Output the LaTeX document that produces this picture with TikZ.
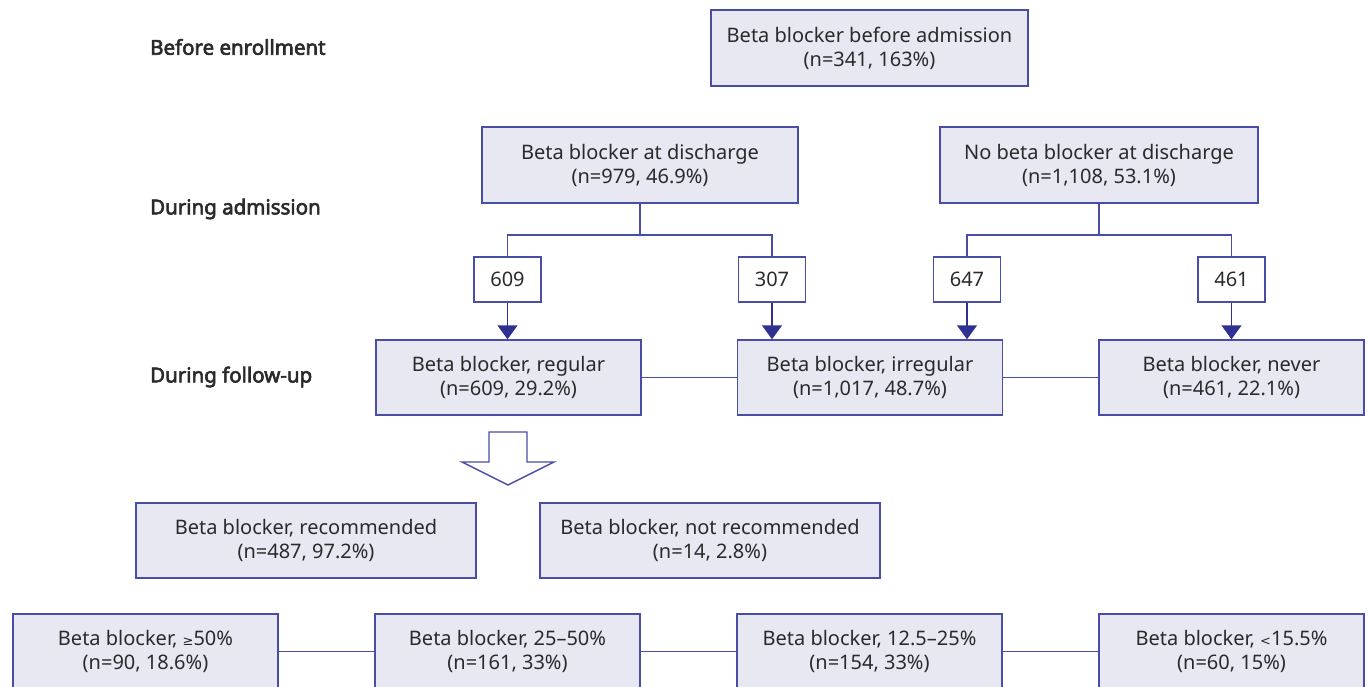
\documentclass[tikz,border=0pt]{standalone}
\usepackage{fontspec}
\setmainfont{Noto Sans}[AutoFakeBold=3]
\newfontfamily\symfont{DejaVu Sans}
\usetikzlibrary{arrows.meta}
\definecolor{boxfill}{HTML}{E8E8F3}
\definecolor{boxline}{HTML}{4A4DA6}
\definecolor{arrowc}{HTML}{2E3192}
\definecolor{txt}{HTML}{2A2A2A}
\newcommand{\sym}[1]{{\symfont\fontsize{13}{24}\selectfont #1}}
\tikzset{
  bx/.style={draw=boxline, line width=1.4pt, fill=boxfill, align=center, inner sep=0pt,
    minimum width=265, minimum height=75, text=txt, font=\fontsize{20}{24}\selectfont},
  numbox/.style={draw=boxline, line width=1.4pt, fill=white, inner sep=0pt,
    minimum width=67, minimum height=45, text=txt, font=\fontsize{20}{24}\selectfont},
  conn/.style={draw=boxline, line width=1.4pt},
  arr/.style={conn, -{Triangle[width=20pt,length=14pt]}, arrowc},
  lbl/.style={anchor=west, inner sep=0pt, text=txt, font=\bfseries\fontsize{20.5}{24}\selectfont}
}
\begin{document}
\begin{tikzpicture}[x=1pt,y=-1pt]
\useasboundingbox (0,0) rectangle (1369,687);
% stage labels
\node[lbl] (l1) at (150,47) {Before enrollment};
\node[lbl] (l2) at (150,209) {During admission};
\node[lbl] (l3) at (150,377) {During follow-up};
% top
\node[bx, minimum width=317, minimum height=76] (pre) at (869.5,48) {Beta blocker before admission\\(n=341, 163\%)};
% discharge
\node[bx, minimum width=316, minimum height=76] (d) at (640,165) {Beta blocker at discharge\\(n=979, 46.9\%)};
\node[bx, minimum width=318, minimum height=76] (nd) at (1099,165) {No beta blocker at discharge\\(n=1,108, 53.1\%)};
% number boxes
\node[numbox] (n609) at (507.5,279.5) {609};
\node[numbox] (n307) at (772,279.5) {307};
\node[numbox] (n647) at (967,279.5) {647};
\node[numbox] (n461) at (1231.5,279.5) {461};
% follow-up
\node[bx] (reg) at (508.5,377.5) {Beta blocker, regular\\(n=609, 29.2\%)};
\node[bx] (irr) at (870,377.5) {Beta blocker, irregular\\(n=1,017, 48.7\%)};
\node[bx] (nev) at (1231.5,377.5) {Beta blocker, never\\(n=461, 22.1\%)};
% branches
\coordinate (bj1) at (640,235);
\coordinate (bj2) at (1099,235);
\draw[conn] (d.south) -- (bj1);
\draw[conn] (n609.north) |- (bj1) -| (n307.north);
\draw[conn] (nd.south) -- (bj2);
\draw[conn] (n647.north) |- (bj2) -| (n461.north);
\draw[arr] (n609.south) -- (reg.north -| n609.south);
\draw[arr] (n307.south) -- (irr.north -| n307.south);
\draw[arr] (n647.south) -- (irr.north -| n647.south);
\draw[arr] (n461.south) -- (nev.north -| n461.south);
\draw[conn] (reg.east) -- (irr.west);
\draw[conn] (irr.east) -- (nev.west);
% block arrow
\draw[boxline, line width=1.4pt, fill=white, line join=miter]
  (489,432) -- (527,432) -- (527,462) -- (554,462) -- (508,485) -- (462,462) -- (489,462) -- cycle;
% recommendation
\node[bx, minimum width=340] (rec) at (306,540.5) {Beta blocker, recommended\\(n=487, 97.2\%)};
\node[bx, minimum width=340] (nrec) at (710,540.5) {Beta blocker, not recommended\\(n=14, 2.8\%)};
% bottom row
\node[bx] (b1) at (145.5,651.5) {Beta blocker, \sym{≥}50\%\\(n=90, 18.6\%)};
\node[bx] (b2) at (507.5,651.5) {Beta blocker, 25–50\%\\(n=161, 33\%)};
\node[bx] (b3) at (869.5,651.5) {Beta blocker, 12.5–25\%\\(n=154, 33\%)};
\node[bx] (b4) at (1231.5,651.5) {Beta blocker, \sym{<}15.5\%\\(n=60, 15\%)};
\draw[conn] (b1.east) -- (b2.west);
\draw[conn] (b2.east) -- (b3.west);
\draw[conn] (b3.east) -- (b4.west);
\end{tikzpicture}
\end{document}
